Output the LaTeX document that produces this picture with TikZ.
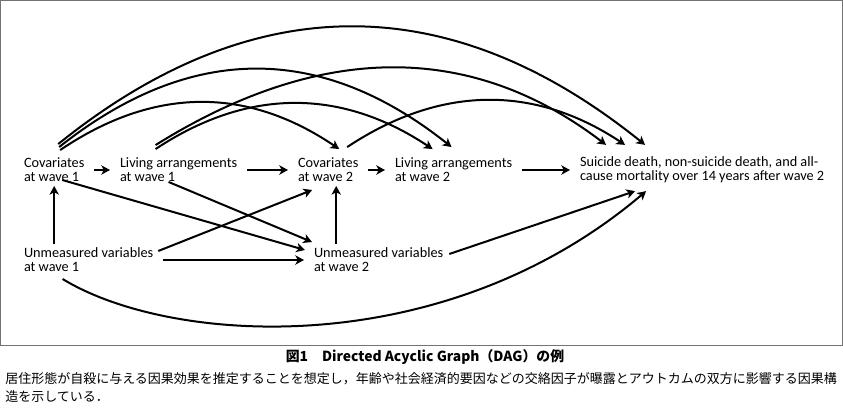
\documentclass[tikz,border=0pt]{standalone}
\usepackage{fontspec}
\setmainfont{Carlito}
\newfontfamily\cjk{Noto Sans CJK JP}
\usetikzlibrary{arrows.meta}

\begin{document}
\begin{tikzpicture}[
  x=0.75pt, y=-0.75pt,
  var/.style={
    inner sep=0pt, outer xsep=7.5pt, outer ysep=3pt,
    anchor=west, align=left,
    font=\fontsize{10.7pt}{10.5pt}\selectfont
  },
  arrow/.style={-{Stealth[length=6.5pt,width=7pt,inset=1.8pt]}, line width=1.5pt},
  captitle/.style={inner sep=0pt, font=\cjk\bfseries\fontsize{10.4pt}{13.5pt}\selectfont},
  captext/.style={inner sep=0pt, align=left, font=\cjk\fontsize{9.75pt}{13.5pt}\selectfont}
]
\useasboundingbox (0,0) rectangle (843,408);
\draw[black!55, line width=0.75pt] (0.5,0.5) rectangle (842.5,345.5);

% =====================================================
% WAVE 1 / WAVE 2 VARIABLES
% =====================================================

\node[var] (cov1) at (14,170) {Covariates\\at wave 1};
\node[var] (liv1) at (110,170) {Living arrangements\\at wave 1};
\node[var] (cov2) at (288,170) {Covariates\\at wave 2};
\node[var] (liv2) at (385,170) {Living arrangements\\at wave 2};
\node[var] (out) at (570,170)
{Suicide death, non-suicide death, and all-\\cause mortality over 14 years after wave 2};

\node[var] (unm1) at (14,260) {Unmeasured variables\\at wave 1};
\node[var] (unm2) at (304,260) {Unmeasured variables\\at wave 2};

% =====================================================
% STRAIGHT PATHS
% =====================================================

\draw[arrow] (cov1) -- (liv1);
\draw[arrow] (liv1) -- (cov2);
\draw[arrow] (cov2) -- (liv2);
\draw[arrow] (liv2) -- (out);

\draw[arrow] (unm1.north -| cov1.south) -- (cov1.south);
\draw[arrow] ([xshift=6pt]cov2.south |- unm2.north) -- ([xshift=6pt]cov2.south);
\draw[arrow] (unm1) -- (unm2);

\draw[arrow] ([shift={(-5,7)}]unm1.north east) -- ([shift={(-16,4)}]cov2.south);
\draw[arrow] ([shift={(8,-6)}]cov1.south) -- ([shift={(1,6)}]unm2.north west);
\draw[arrow] ([shift={(-10,-4)}]liv1.south) -- ([shift={(8,-2)}]unm2.north west);
\draw[arrow] ([shift={(-4,10)}]unm2.north east) -- ([shift={(-67,4)}]out.south);

% unmeasured wave 1 -> outcome (below)
\draw[arrow] ([shift={(-26,3)}]unm1.south)
  .. controls +(108,66) and +(-203,172) .. ([shift={(-56,4)}]out.south);

% =====================================================
% ARCS ABOVE
% =====================================================

\draw[arrow] ([shift={(4,-10)}]cov1.north)
  .. controls +(195,-157) and +(-195,-157) .. ([shift={(-57,-8)}]out.north);
\draw[arrow] ([shift={(5,-7)}]cov1.north)
  .. controls +(131,-104) and +(-131,-104) .. ([shift={(-2,-7)}]liv2.north);
\draw[arrow] ([shift={(6,-4)}]cov1.north)
  .. controls +(93,-63) and +(-93,-63) .. ([shift={(11,-5)}]cov2.north);
\draw[arrow] ([shift={(-23,-9)}]liv1.north)
  .. controls +(165,-103) and +(-135,-103) .. ([shift={(-96,-8)}]out.north);
\draw[arrow] ([shift={(-23,-5)}]liv1.north)
  .. controls +(92,-61) and +(-92,-61) .. ([shift={(-21,-5)}]liv2.north);
\draw[arrow] ([shift={(19,-7)}]cov2.north)
  .. controls +(92,-61) and +(-92,-61) .. ([shift={(-77,-8)}]out.north);

% =====================================================
% CAPTION
% =====================================================

\node[captitle] (title) at (425,357) {図1　Directed Acyclic Graph（DAG）の例};
\node[captext, anchor=north west] (note) at (5,372)
{居住形態が自殺に与える因果効果を推定することを想定し，年齢や社会経済的要因などの交絡因子が曝露とアウトカムの双方に影響する因果構\\造を示している．};

\end{tikzpicture}
\end{document}
